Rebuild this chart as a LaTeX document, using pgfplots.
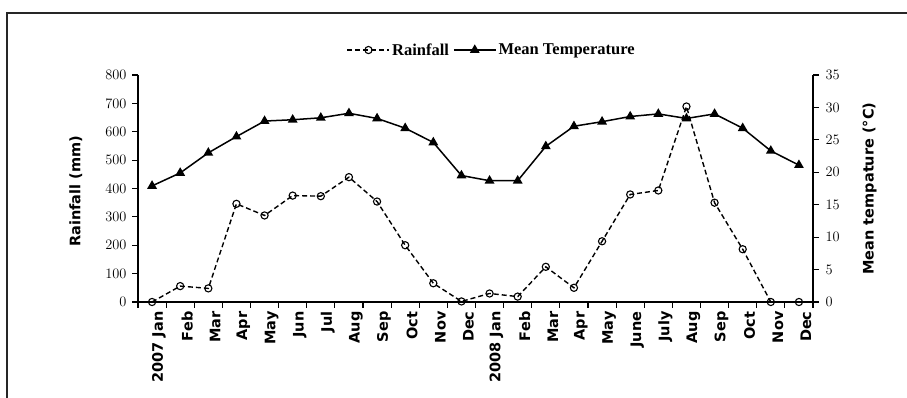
\documentclass[border=0pt]{standalone}
\usepackage{fontspec}
\setmainfont{Liberation Serif}
\newfontfamily\dejavu{DejaVu Sans}
\usepackage{pgfplots}
\pgfplotsset{compat=1.18}

% monthly rainfall (mm) and mean temperature (deg C), Jan 2007 - Dec 2008
\pgfplotstableread{
idx rain temp
0   0    17.9
1   56   19.9
2   48   23.0
3   346  25.5
4   305  27.9
5   375  28.1
6   373  28.4
7   440  29.1
8   354  28.3
9   200  26.8
10  66   24.6
11  2    19.5
12  30   18.7
13  19   18.7
14  124  24.0
15  50   27.1
16  214  27.8
17  379  28.6
18  393  29.0
19  689  28.3
20  350  29.0
21  186  26.8
22  0    23.3
23  0    21.1
}\climate

\pgfplotsset{
  rainstyle/.style={black, line width=1.4pt, dash pattern=on 5pt off 3pt,
    mark=o, mark size=3.6pt, mark options={solid, fill=white, line width=1.1pt}},
  tempstyle/.style={black, line width=1.5pt,
    mark=triangle*, mark size=4.2pt, mark options={solid}},
  common/.style={
    scale only axis, width=675pt, height=227pt,
    at={(138pt,96pt)}, anchor=south west,
    xmin=-0.5, xmax=23.5, clip=false,
    tick align=outside, axis line style={line width=1.3pt},
    every tick/.style={black, line width=1.1pt},
    major tick length=6pt, minor tick length=6pt,
  },
}

\begin{document}
\begin{tikzpicture}[x=1pt,y=1pt]
\useasboundingbox (0,0) rectangle (907,398);
% outer frame
\draw[line width=1.8pt, black!85] (7,-5) -- (7,385) -- (915,385);

\begin{axis}[common,
  axis y line*=left, axis x line*=bottom,
  ymin=0, ymax=800, ytick={0,100,...,800},
  yticklabel style={font=\dejavu\bfseries\fontsize{13.5}{14}\selectfont, xshift=-2pt},
  xtick={0,...,23},
  xticklabels={2007 Jan,Feb,Mar,Apr,May,Jun,Jul,Aug,Sep,Oct,Nov,Dec,
               2008 Jan,Feb,Mar,Apr,May,June,July,Aug,Sep,Oct,Nov,Dec},
  major x tick style={draw=none},
  minor xtick={-0.5,0.5,...,23.5},
  xticklabel style={font=\dejavu\bfseries\fontsize{14.5}{15}\selectfont,
    rotate=90, anchor=east, yshift=-7pt},
  ylabel={Rainfall (mm)},
  ylabel style={font=\dejavu\bfseries\fontsize{14.5}{15}\selectfont,
    at={(axis description cs:-0.092,0.487)}, anchor=center},
]
\addplot[rainstyle] table[x=idx, y=rain] {\climate};
\end{axis}

\begin{axis}[common,
  axis y line*=right, axis x line=none,
  ymin=0, ymax=35, ytick={0,5,...,35},
  yticklabel style={font=\dejavu\fontsize{14}{15}\selectfont, xshift=3pt},
  ylabel={Mean tempature (°C)},
  ylabel style={font=\dejavu\bfseries\fontsize{14.5}{15}\selectfont,
    at={(axis description cs:1.084,0.5)}, anchor=center},
  legend columns=2,
  legend style={draw=none, fill=none, at={(0.524,1.11)}, anchor=center,
    font=\bfseries\fontsize{16.5}{17}\selectfont,
    /tikz/every even column/.append style={column sep=2pt},
    inner sep=0pt},
  legend image code/.code={%
    \draw[mark repeat=2, mark phase=2, #1]
      plot coordinates {(0pt,0pt) (21pt,0pt) (42pt,0pt)};},
]
\addlegendimage{rainstyle}
\addlegendentry{Rainfall}
\addplot[tempstyle] table[x=idx, y=temp] {\climate};
\addlegendentry{Mean Temperature}
\end{axis}
\end{tikzpicture}
\end{document}
